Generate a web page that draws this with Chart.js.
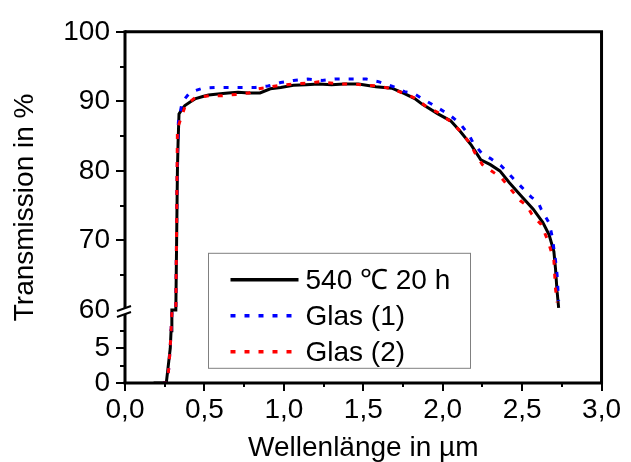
<!DOCTYPE html>
<html>
<head>
<meta charset="utf-8">
<script src="https://cdn.jsdelivr.net/npm/chart.js@4.4.0/dist/chart.umd.min.js"></script>
<style>
  html, body { margin: 0; padding: 0; background: #fff; }
</style>
</head>
<body>
<canvas id="chart" width="631" height="462"></canvas>
<script>
// ===== data (Wellenlänge in µm / Transmission in %) =====
const xAnneal = [0.18, 0.26, 0.27, 0.28, 0.285, 0.29, 0.295, 0.31, 0.32, 0.325, 0.33, 0.334, 0.34, 0.36, 0.377,
  0.41, 0.445, 0.49, 0.526, 0.6, 0.65, 0.711, 0.78, 0.85, 0.915, 0.98, 1.06, 1.14, 1.22, 1.30, 1.38, 1.47,
  1.58, 1.68, 1.76, 1.824, 1.87, 1.97, 2.05, 2.11, 2.18, 2.24, 2.30, 2.36, 2.42, 2.49, 2.57, 2.63, 2.67,
  2.70, 2.71, 2.72, 2.73];
const yAnneal = [0, 0, 2, 4, 5, 7.5, 20, 40, 60, 70, 80, 84, 88.2, 88.9, 89.4,
  89.9, 90.4, 90.7, 90.9, 91.1, 91.2, 91.3, 91.2, 91.2, 91.8, 92.0, 92.3, 92.4, 92.5, 92.4, 92.5, 92.5,
  92.1, 91.9, 91.1, 90.4, 89.6, 88.2, 87.2, 85.7, 83.7, 81.6, 80.9, 80.0, 78.3, 76.5, 74.5, 72.6, 70.8,
  68.4, 66.0, 62.7, 60.3];

const xGlas1 = [0.24, 0.265, 0.275, 0.283, 0.29, 0.296, 0.31, 0.32, 0.325, 0.33, 0.336, 0.36, 0.41, 0.49,
  0.58, 0.66, 0.74, 0.82, 0.90, 0.98, 1.06, 1.15, 1.24, 1.32, 1.43, 1.52, 1.60, 1.68, 1.76, 1.82, 1.87,
  1.96, 2.04, 2.11, 2.17, 2.19, 2.25, 2.30, 2.37, 2.44, 2.50, 2.54, 2.56, 2.60, 2.62, 2.65, 2.67, 2.69,
  2.70, 2.71, 2.72, 2.725, 2.73];
const yGlas1 = [0, 0, 2, 4.5, 7.5, 20, 45, 60, 72, 82, 87, 89.9, 91.3, 91.9,
  92.0, 92.0, 92.0, 92.0, 92.2, 92.7, 93.0, 93.2, 93.0, 93.2, 93.2, 93.2, 92.8, 92.2, 91.4, 91.1, 90.4,
  89.2, 88.1, 86.8, 85.0, 84.1, 82.4, 81.8, 80.7, 79.0, 77.6, 76.6, 76.2, 75.5, 74.5, 73.3, 72.5, 70.5,
  68.8, 67.2, 65.1, 63.1, 61.3];

const xGlas2 = [0.24, 0.265, 0.275, 0.283, 0.29, 0.296, 0.31, 0.32, 0.325, 0.33, 0.38, 0.44, 0.53, 0.61,
  0.70, 0.78, 0.84, 0.90, 0.97, 1.06, 1.14, 1.22, 1.31, 1.37, 1.43, 1.52, 1.60, 1.68, 1.76, 1.83, 1.90,
  1.97, 2.05, 2.12, 2.18, 2.20, 2.25, 2.30, 2.37, 2.43, 2.49, 2.53, 2.56, 2.59, 2.62, 2.64, 2.66, 2.67,
  2.69, 2.70, 2.705, 2.71, 2.72];
const yGlas2 = [0, 0, 2, 4.5, 7.5, 20, 45, 60, 72, 86.1, 89.4, 90.5, 90.8, 90.8,
  91.0, 91.2, 91.8, 92.0, 92.3, 92.5, 92.6, 92.8, 92.6, 92.5, 92.5, 92.3, 92.2, 91.8, 91.1, 90.4, 89.2,
  88.4, 87.1, 85.5, 83.7, 82.7, 80.9, 80.1, 79.0, 77.3, 75.7, 75.0, 73.8, 73.0, 72.3, 71.2, 70.1, 69.4,
  67.9, 67.1, 65.1, 63.1, 61.1];

const seriesLabels = ["540 \u2103 20 h", "Glas (1)", "Glas (2)"];

// axis ticks
const yTicks = [0, 5, 60, 70, 80, 90, 100];
const yMinor = [2.5, 7.5, 65, 75, 85, 95];
const xTicks = [0, 0.5, 1.0, 1.5, 2.0, 2.5, 3.0];
const xMinor = [0.25, 0.75, 1.25, 1.75, 2.25, 2.75];

// broken y axis: 0..BREAK_LO below, BREAK_HI..100 above
const BREAK_LO = 10.5;
const BREAK_HI = 60;
const GAP = BREAK_HI - BREAK_LO;

function toAxis(v) {
  if (v <= BREAK_LO) return v;
  if (v >= BREAK_HI) return v - GAP;
  return BREAK_LO; // values inside the break sit on the break line
}
function fromAxis(t) {
  return t <= BREAK_LO - 0.01 ? t : t + GAP;
}

function points(xs, ys) {
  return xs.map((x, i) => ({ x: x, y: toAxis(ys[i]) }));
}

const FONT = "'Liberation Sans', Arial, Helvetica, sans-serif";

// frame, ticks, axis break and legend
const framePlugin = {
  id: "framePlugin",
  afterDatasetsDraw(chart) {
    const { ctx, chartArea: a, scales: { x, y } } = chart;
    const yb = y.getPixelForValue(BREAK_LO);
    ctx.save();
    ctx.strokeStyle = "#000";
    ctx.lineWidth = 3;
    ctx.lineCap = "butt";

    // top, right, bottom
    ctx.beginPath();
    ctx.moveTo(a.left, a.top);
    ctx.lineTo(a.right, a.top);
    ctx.lineTo(a.right, a.bottom);
    ctx.lineTo(a.left - 1.5, a.bottom);
    ctx.stroke();

    // left axis with gap
    ctx.beginPath();
    ctx.moveTo(a.left, a.top - 1.5);
    ctx.lineTo(a.left, yb - 2);
    ctx.moveTo(a.left, yb + 4);
    ctx.lineTo(a.left, a.bottom);
    ctx.stroke();

    // break marks
    ctx.lineWidth = 2;
    ctx.beginPath();
    [-1.5, 4.5].forEach(off => {
      ctx.moveTo(a.left - 8, yb + off + 2.5);
      ctx.lineTo(a.left + 6, yb + off - 2.5);
    });
    ctx.stroke();

    // tick marks (outside)
    ctx.lineWidth = 2;
    ctx.beginPath();
    yTicks.forEach(v => {
      if (v === BREAK_HI) return;
      const p = Math.round(y.getPixelForValue(toAxis(v)));
      ctx.moveTo(a.left - 9, p);
      ctx.lineTo(a.left, p);
    });
    yMinor.forEach(v => {
      const p = Math.round(y.getPixelForValue(toAxis(v)));
      ctx.moveTo(a.left - 5, p);
      ctx.lineTo(a.left, p);
    });
    xTicks.forEach(v => {
      const p = Math.round(x.getPixelForValue(v));
      ctx.moveTo(p, a.bottom);
      ctx.lineTo(p, a.bottom + 8);
    });
    xMinor.forEach(v => {
      const p = Math.round(x.getPixelForValue(v));
      ctx.moveTo(p, a.bottom);
      ctx.lineTo(p, a.bottom + 4);
    });
    ctx.stroke();

    // legend
    const lx = a.left + 83.5, ly = a.top + 221.5, lw = 262, lh = 115;
    ctx.fillStyle = "#fff";
    ctx.fillRect(lx, ly, lw, lh);
    ctx.strokeStyle = "#808080";
    ctx.lineWidth = 1;
    ctx.strokeRect(lx, ly, lw, lh);

    ctx.font = "28px " + FONT;
    ctx.textBaseline = "middle";
    ctx.textAlign = "left";
    chart.data.datasets.forEach((ds, i) => {
      const yy = ly + 26.5 + i * 36;
      ctx.beginPath();
      ctx.strokeStyle = ds.borderColor;
      ctx.lineWidth = 3.5;
      ctx.setLineDash(ds.borderDash || []);
      ctx.moveTo(lx + 22, yy);
      ctx.lineTo(lx + 90, yy);
      ctx.stroke();
      ctx.setLineDash([]);
      ctx.fillStyle = "#000";
      ctx.fillText(ds.label, lx + 97, yy + 1);
    });
    ctx.restore();
  }
};

new Chart(document.getElementById("chart"), {
  type: "line",
  data: {
    datasets: [
      { label: seriesLabels[0], data: points(xAnneal, yAnneal), borderColor: "#000000",
        borderWidth: 3, order: 3 },
      { label: seriesLabels[1], data: points(xGlas1, yGlas1), borderColor: "#0000ff",
        borderWidth: 3, borderDash: [5, 9], order: 2 },
      { label: seriesLabels[2], data: points(xGlas2, yGlas2), borderColor: "#ff0000",
        borderWidth: 3, borderDash: [5, 9], order: 1 }
    ]
  },
  options: {
    responsive: false,
    animation: false,
    devicePixelRatio: 1,
    elements: { point: { radius: 0 }, line: { tension: 0, borderCapStyle: "butt" } },
    layout: { padding: { left: 0, top: 27, right: 21, bottom: 0 } },
    plugins: { legend: { display: false }, tooltip: { enabled: false } },
    scales: {
      x: {
        type: "linear",
        min: 0,
        max: 3,
        grid: { display: false, drawTicks: false },
        border: { display: false },
        afterBuildTicks: (s) => { s.ticks = xTicks.map(v => ({ value: v })); },
        afterFit: (s) => { s.height = 79; },
        ticks: {
          padding: 10,
          color: "#000",
          font: { family: FONT, size: 28 },
          maxRotation: 0,
          callback: (v) => Number(v).toFixed(1).replace(".", ",")
        },
        title: {
          display: true,
          text: "Wellenlänge in µm",
          color: "#000",
          font: { family: FONT, size: 28, lineHeight: 1 },
          padding: { top: 1, bottom: 0 }
        }
      },
      y: {
        type: "linear",
        min: 0,
        max: 100 - GAP,
        grid: { display: false, drawTicks: false },
        border: { display: false },
        afterBuildTicks: (s) => { s.ticks = yTicks.map(v => ({ value: toAxis(v) })); },
        afterFit: (s) => { s.width = 125; },
        ticks: {
          padding: 15,
          color: "#000",
          font: { family: FONT, size: 28 },
          callback: (t) => String(Math.round(fromAxis(t)))
        },
        title: {
          display: true,
          text: "Transmission in %",
          color: "#000",
          font: { family: FONT, size: 28, lineHeight: 1 },
          padding: { top: 11, bottom: 0 }
        }
      }
    }
  },
  plugins: [framePlugin]
});
</script>
</body>
</html>
